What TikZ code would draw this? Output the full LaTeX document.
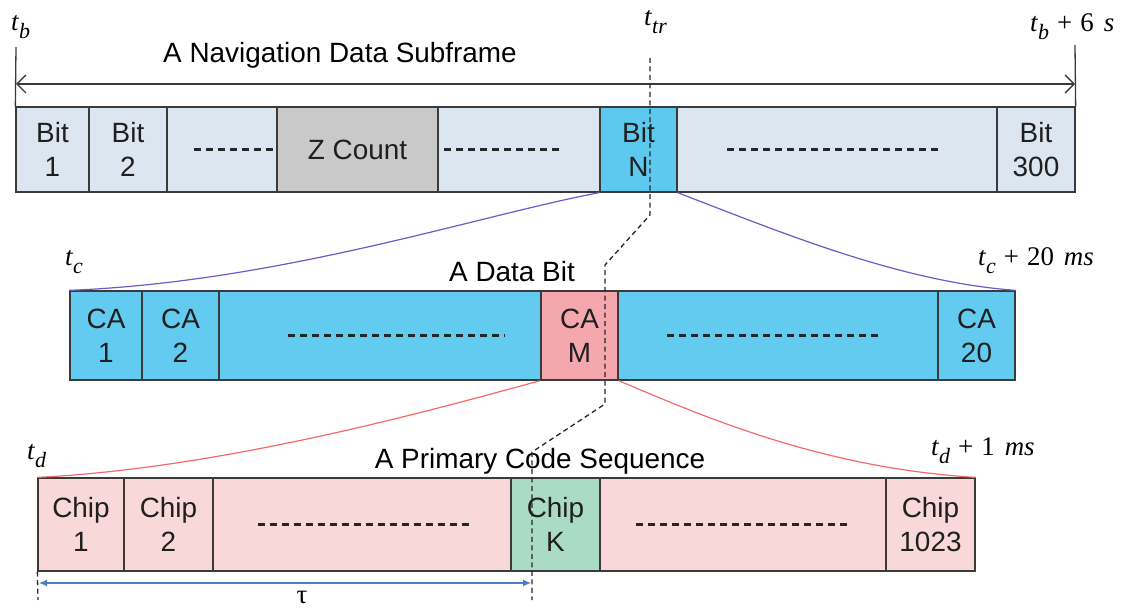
\documentclass[tikz,border=0pt]{standalone}
\usepackage{fontspec}
\setmainfont{Liberation Sans}
\newfontfamily\tms{Liberation Serif}
\usetikzlibrary{arrows.meta}

\definecolor{boxline}{HTML}{3A3A3A}
\definecolor{toprow}{HTML}{DCE6F1}
\definecolor{zgray}{HTML}{C9C9C9}
\definecolor{cyanbit}{HTML}{5EC9EF}
\definecolor{carow}{HTML}{63CBEF}
\definecolor{capink}{HTML}{F4A8AE}
\definecolor{chiprow}{HTML}{F9D8D9}
\definecolor{chipgreen}{HTML}{AADBC4}
\definecolor{zoomviolet}{HTML}{6B5BC4}
\definecolor{zoomred}{HTML}{F26A6A}
\definecolor{taublue}{HTML}{4A7FC1}

% time stamp: italic t with a lowered italic subscript
\newcommand\tstamp[1]{{\itshape t}\kern0.5bp\raisebox{-8bp}{\fontsize{22}{22}\selectfont\itshape #1}}

\begin{document}
\begin{tikzpicture}[x=1bp,y=-1bp,
  cell/.style={draw=boxline, line width=1.3bp, inner sep=0pt, align=center,
               text=black!88, font=\fontsize{28}{34}\selectfont},
  rowA/.style={cell, minimum height=85bp, fill=toprow},
  rowB/.style={cell, minimum height=89bp, fill=carow},
  rowC/.style={cell, minimum height=93bp, fill=chiprow},
  filler/.style={draw=black!85, line width=2.1bp, dash pattern=on 7bp off 5bp},
  title/.style={font=\fontsize{28}{34}\selectfont, inner sep=0pt, anchor=base},
  stamp/.style={font=\tms\fontsize{27}{30}\selectfont, inner sep=0pt, anchor=base west},
  guide/.style={draw=boxline, line width=1.3bp},
  trline/.style={draw=black!85, line width=1.3bp, dash pattern=on 5bp off 3.5bp},
]
\useasboundingbox (0,0) rectangle (1122,609);

% ---- navigation data subframe ----
\node[rowA, minimum width=73bp]  (b1)   at (52.5,149.5) {Bit\\1};
\node[rowA, minimum width=78bp]  (b2)   at (128,149.5)  {Bit\\2};
\node[rowA, minimum width=110bp] (d1)   at (222,149.5)  {};
\node[rowA, minimum width=161bp, fill=zgray] (zc) at (357.5,149.5) {Z Count};
\node[rowA, minimum width=162bp] (d2)   at (519,149.5)  {};
\node[rowA, minimum width=77bp, fill=cyanbit] (bn) at (638.5,149.5) {Bit\\N};
\node[rowA, minimum width=320bp] (d3)   at (837,149.5)  {};
\node[rowA, minimum width=78bp]  (b300) at (1036,149.5) {Bit\\300};

\draw[filler] ([xshift=28bp]d1.west) -- ([xshift=-2bp]d1.east);
\draw[filler] ([xshift=7bp]d2.west)  -- ([xshift=-40bp]d2.east);
\draw[filler] ([xshift=51bp]d3.west) -- ([xshift=-57bp]d3.east);

% span arrow over the subframe
\coordinate (sfL) at (16,47);
\coordinate (sfR) at (1075,45);
\draw[guide] (sfL) -- (b1.north west);
\draw[guide] (sfR) -- (b300.north east);
\draw[guide, {Straight Barb[length=9bp,width=18bp]}-{Straight Barb[length=9bp,width=18bp]}]
  (16,84) -- (1075,84);
\node[title] (tsub) at (340,63) {A Navigation Data Subframe};
\node[stamp] (tb)  at (11,31)   {\tstamp{b}};
\node[stamp] (tb6) at (1030,32) {\tstamp{b}\kern8bp+\kern8bp6\kern10bp\textit{s}};
\node[stamp] (ttr) at (644,26)  {\tstamp{tr}};

% ---- a data bit ----
\node[rowB, minimum width=72bp]  (c1)  at (106,335.5)   {CA\\1};
\node[rowB, minimum width=77bp]  (c2)  at (180.5,335.5) {CA\\2};
\node[rowB, minimum width=322bp] (e1)  at (380,335.5)   {};
\node[rowB, minimum width=77bp, fill=capink] (cm) at (579.5,335.5) {CA\\M};
\node[rowB, minimum width=320bp] (e2)  at (778,335.5)   {};
\node[rowB, minimum width=77bp]  (c20) at (976.5,335.5) {CA\\20};

\draw[filler] ([xshift=70bp]e1.west) -- ([xshift=-37bp]e1.east);
\draw[filler] ([xshift=50bp]e2.west) -- ([xshift=-56bp]e2.east);

\node[title] (tbit) at (512,282) {A Data Bit};
\node[stamp] (tc)   at (65,266)  {\tstamp{c}};
\node[stamp] (tc20) at (978,266) {\tstamp{c}\kern8bp+\kern8bp20\kern10bp\textit{ms}};

% ---- a primary code sequence ----
\node[rowC, minimum width=86bp]  (p1)    at (81,524.5)    {Chip\\1};
\node[rowC, minimum width=89bp]  (p2)    at (168.5,524.5) {Chip\\2};
\node[rowC, minimum width=298bp] (f1)    at (362,524.5)   {};
\node[rowC, minimum width=89bp, fill=chipgreen] (pk) at (555.5,524.5) {Chip\\K};
\node[rowC, minimum width=286bp] (f2)    at (743,524.5)   {};
\node[rowC, minimum width=89bp]  (p1023) at (930.5,524.5) {Chip\\1023};

\draw[filler] ([xshift=46bp]f1.west) -- ([xshift=-40bp]f1.east);
\draw[filler] ([xshift=37bp]f2.west) -- ([xshift=-36bp]f2.east);

\node[title] (tseq) at (540,468) {A Primary Code Sequence};
\node[stamp] (td)   at (27,459)  {\tstamp{d}};
\node[stamp] (td1)  at (931,455) {\tstamp{d}\kern8bp+\kern8bp1\kern10bp\textit{ms}};

% ---- zoom curves ----
\draw[zoomviolet, line width=1.2bp] (bn.south west) .. controls (480,215) and (280,282) .. (c1.north west);
\draw[zoomviolet, line width=1.2bp] (bn.south east) .. controls (780,232) and (900,282) .. (c20.north east);
\draw[zoomred, line width=1.2bp] (cm.south west) .. controls (450,405) and (230,468) .. (p1.north west);
\draw[zoomred, line width=1.2bp] (cm.south east) .. controls (700,415) and (820,468) .. (p1023.north east);

% ---- transmit time marker ----
\coordinate (tr0) at (650,58);
\coordinate (tr1) at (650,215);
\coordinate (tr2) at (605,265);
\coordinate (tr3) at (605,404);
\coordinate (tr4) at (532,452);
\coordinate (tr5) at (532,600);
\draw[trline] (tr0) -- (tr1) -- (tr2) -- (tr3) -- (tr4) -- (tr5);
\coordinate (td0) at (38,600);
\draw[trline] (p1.south west) -- (td0);

% code phase tau
\coordinate (tauL) at (38,583);
\coordinate (tauR) at (532,583);
\draw[taublue, line width=1.3bp, {Latex[length=8bp,width=7bp]}-{Latex[length=8bp,width=7bp]}]
  ([xshift=1bp]tauL) -- ([xshift=-1bp]tauR);
\node[font=\tms\fontsize{27}{27}\selectfont, inner sep=0pt, anchor=base] (tau) at (302,603) {τ};
\end{tikzpicture}
\end{document}
